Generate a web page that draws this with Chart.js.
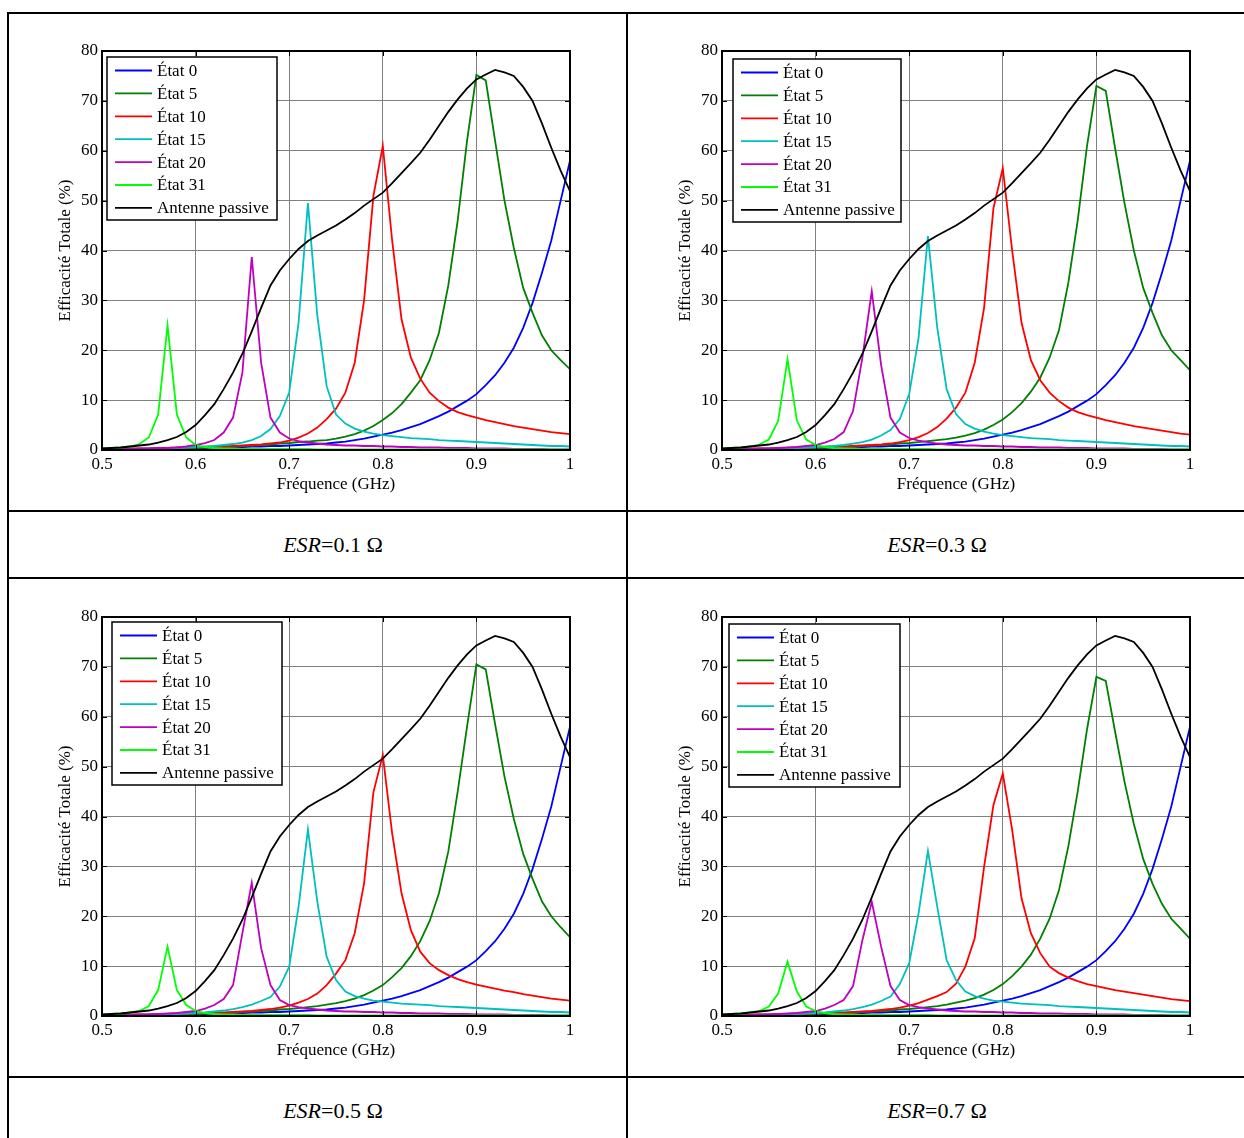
<!DOCTYPE html>
<html>
<head>
<meta charset="utf-8">
<script src="https://cdn.jsdelivr.net/npm/chart.js@4.4.0/dist/chart.umd.min.js"></script>
<style>
html, body { margin: 0; padding: 0; background: #fff; width: 1244px; height: 1138px; overflow: hidden; }
canvas { position: absolute; }
.hl { position: absolute; background: #000; height: 2px; z-index: 5; }
.vl { position: absolute; background: #000; width: 2px; z-index: 5; }
.cap { position: absolute; display: flex; align-items: center; justify-content: center;
       font-family: "Liberation Serif", "Times New Roman", serif; font-size: 22px; color: #000; }
</style>
</head>
<body>
<canvas id="c1" width="620" height="498" style="left:8px;top:13px"></canvas>
<canvas id="c2" width="620" height="498" style="left:628px;top:13px"></canvas>
<canvas id="c3" width="620" height="499" style="left:8px;top:578px"></canvas>
<canvas id="c4" width="620" height="499" style="left:628px;top:578px"></canvas>

<div class="cap" id="cap1" style="left:183px;top:512px;width:300px;height:66px"></div>
<div class="cap" id="cap2" style="left:787px;top:512px;width:300px;height:66px"></div>
<div class="cap" id="cap3" style="left:183px;top:1078px;width:300px;height:66px"></div>
<div class="cap" id="cap4" style="left:787px;top:1078px;width:300px;height:66px"></div>

<div class="hl" style="left:7px;top:12px;width:1240px"></div>
<div class="hl" style="left:7px;top:510px;width:1240px"></div>
<div class="hl" style="left:7px;top:577px;width:1240px"></div>
<div class="hl" style="left:7px;top:1076px;width:1240px"></div>
<div class="vl" style="left:7px;top:12px;height:1130px"></div>
<div class="vl" style="left:626px;top:12px;height:1130px"></div>

<script>
// fréquences (GHz), un point tous les 10 MHz
var freq = [0.50,0.51,0.52,0.53,0.54,0.55,0.56,0.57,0.58,0.59,
            0.60,0.61,0.62,0.63,0.64,0.65,0.66,0.67,0.68,0.69,
            0.70,0.71,0.72,0.73,0.74,0.75,0.76,0.77,0.78,0.79,
            0.80,0.81,0.82,0.83,0.84,0.85,0.86,0.87,0.88,0.89,
            0.90,0.91,0.92,0.93,0.94,0.95,0.96,0.97,0.98,0.99,1.00];

var xTickLabels = ['0.5', '0.6', '0.7', '0.8', '0.9', '1'];
var yTickLabels = ['0', '10', '20', '30', '40', '50', '60', '70', '80'];
var legendLabels = ['État 0', 'État 5', 'État 10', 'État 15', 'État 20', 'État 31', 'Antenne passive'];
var esrValues = ['0.1', '0.3', '0.5', '0.7'];

// antenne passive : identique sur les 4 figures
var passive = [0.3,0.4,0.5,0.7,0.9,1.1,1.5,2.0,2.6,3.6,
               5.0,7.0,9.2,12.2,15.5,19.3,23.8,28.5,33.0,36.0,
               38.3,40.3,41.9,43.0,44.0,45.0,46.2,47.5,49.0,50.3,
               51.6,53.5,55.5,57.5,59.6,62.2,65.0,67.8,70.3,72.5,
               74.3,75.3,76.2,75.7,75.0,72.8,70.0,65.5,60.6,56.0,51.9];

// état 0 : quasiment le même partout
var etat0 = [0.1,0.1,0.1,0.2,0.2,0.2,0.3,0.3,0.3,0.4,
             0.4,0.4,0.5,0.5,0.6,0.6,0.7,0.7,0.8,0.8,
             0.9,1.0,1.1,1.2,1.3,1.5,1.7,2.0,2.3,2.7,
             3.1,3.5,4.0,4.6,5.2,6.0,6.8,7.7,8.8,9.9,
             11.2,13.0,15.0,17.5,20.5,24.5,29.5,35.5,42.0,50.0,58.0];

// ESR = 0.1
var esr1_e5 = [0.1,0.1,0.1,0.2,0.2,0.2,0.3,0.3,0.3,0.4,
               0.4,0.5,0.5,0.6,0.7,0.8,0.9,1.0,1.1,1.3,
               1.4,1.6,1.7,1.9,2.0,2.3,2.7,3.2,3.9,4.8,
               6.0,7.4,9.2,11.5,14.0,18.0,23.5,33.0,46.0,62.0,
               75.2,74.1,62.0,50.0,40.5,32.5,27.5,23.0,20.0,18.0,16.2];
var esr1_e10 = [0.2,0.2,0.2,0.3,0.3,0.3,0.4,0.4,0.5,0.5,
                0.6,0.6,0.7,0.7,0.8,0.9,1.0,1.1,1.3,1.5,
                1.9,2.5,3.3,4.5,6.2,8.3,11.5,17.5,30.0,51.0,
                61.0,42.0,26.2,18.5,14.3,11.5,9.8,8.5,7.6,7.0,
                6.5,6.0,5.6,5.2,4.8,4.5,4.2,3.9,3.6,3.4,3.2];
var esr1_e15 = [0.1,0.1,0.2,0.2,0.2,0.3,0.3,0.4,0.4,0.5,
                0.6,0.7,0.8,1.0,1.2,1.5,2.0,2.8,4.2,6.8,
                11.5,25.5,49.5,27.0,12.8,7.1,5.3,4.3,3.7,3.3,
                3.0,2.8,2.6,2.4,2.3,2.2,2.0,1.9,1.8,1.7,
                1.6,1.5,1.4,1.3,1.2,1.1,1.0,0.9,0.8,0.8,0.7];
var esr1_e20 = [0.1,0.1,0.2,0.2,0.3,0.3,0.4,0.4,0.5,0.7,
                1.0,1.4,2.0,3.5,6.5,15.5,38.7,17.5,6.5,3.5,
                2.3,1.8,1.5,1.3,1.1,1.0,0.9,0.9,0.8,0.8,
                0.7,0.7,0.6,0.6,0.5,0.5,0.5,0.4,0.4,0.4,
                0.3,0.3,0.3,0.3,0.2,0.2,0.2,0.2,0.1,0.1,0.1];
var esr1_e31 = [0.3,0.4,0.5,0.7,1.2,2.5,7.1,25.0,7.1,2.5,
                1.0,0.6,0.4,0.3,0.3,0.2,0.2,0.2,0.2,0.2,
                0.2,0.2,0.2,0.1,0.1,0.1,0.1,0.1,0.1,0.1,
                0.1,0.1,0.1,0.1,0.1,0.1,0.1,0.1,0.1,0.1,
                0.1,0.1,0.1,0.1,0.1,0.1,0.1,0.1,0.1,0.1,0.1];

// ESR = 0.3
var esr3_e5 = [0.1,0.1,0.1,0.2,0.2,0.2,0.3,0.3,0.3,0.4,
               0.4,0.5,0.5,0.6,0.7,0.8,0.9,1.0,1.1,1.3,
               1.4,1.6,1.8,2.0,2.2,2.5,2.9,3.4,4.1,5.0,
               6.1,7.6,9.4,11.7,14.5,18.5,24.0,33.5,46.0,61.0,
               73.0,72.0,60.5,49.5,40.0,32.5,27.5,23.0,20.0,18.0,16.0];
var esr3_e10 = [0.2,0.2,0.2,0.3,0.3,0.3,0.4,0.4,0.5,0.5,
                0.6,0.6,0.7,0.7,0.8,0.9,1.0,1.1,1.3,1.6,
                2.0,2.6,3.4,4.6,6.3,8.5,11.5,17.5,28.5,48.5,
                56.5,40.0,25.5,18.0,14.0,11.5,9.8,8.5,7.6,7.0,
                6.5,6.0,5.6,5.2,4.8,4.5,4.2,3.9,3.6,3.3,3.1];
var esr3_e15 = [0.1,0.1,0.2,0.2,0.2,0.3,0.3,0.4,0.4,0.5,
                0.6,0.7,0.8,1.0,1.3,1.6,2.1,2.9,4.0,6.2,
                11.2,22.5,42.9,24.5,12.2,7.2,5.2,4.3,3.7,3.3,
                3.0,2.8,2.6,2.4,2.3,2.2,2.0,1.9,1.8,1.7,
                1.6,1.5,1.4,1.3,1.2,1.1,1.0,0.9,0.8,0.8,0.7];
var esr3_e20 = [0.1,0.1,0.2,0.2,0.3,0.3,0.4,0.5,0.6,0.8,
                1.0,1.5,2.2,3.6,7.8,18.5,31.8,17.0,6.5,3.5,
                2.4,1.9,1.6,1.3,1.1,1.0,0.9,0.9,0.8,0.8,
                0.7,0.7,0.6,0.6,0.5,0.5,0.5,0.4,0.4,0.4,
                0.3,0.3,0.3,0.3,0.2,0.2,0.2,0.2,0.1,0.1,0.1];
var esr3_e31 = [0.3,0.4,0.5,0.7,1.1,2.1,5.8,18.2,5.9,2.1,
                1.0,0.6,0.4,0.3,0.3,0.2,0.2,0.2,0.2,0.2,
                0.2,0.2,0.2,0.1,0.1,0.1,0.1,0.1,0.1,0.1,
                0.1,0.1,0.1,0.1,0.1,0.1,0.1,0.1,0.1,0.1,
                0.1,0.1,0.1,0.1,0.1,0.1,0.1,0.1,0.1,0.1,0.1];

// ESR = 0.5
var esr5_e5 = [0.1,0.1,0.1,0.2,0.2,0.2,0.3,0.3,0.3,0.4,
               0.4,0.5,0.5,0.6,0.7,0.8,0.9,1.0,1.1,1.3,
               1.4,1.6,1.8,2.0,2.3,2.6,3.0,3.5,4.2,5.1,
               6.2,7.8,9.6,12.0,15.0,19.0,24.6,33.0,45.0,58.0,
               70.5,69.5,58.5,48.0,39.5,32.5,27.5,23.0,20.0,17.8,15.8];
var esr5_e10 = [0.2,0.2,0.2,0.3,0.3,0.3,0.4,0.4,0.5,0.5,
                0.6,0.6,0.7,0.7,0.8,0.9,1.0,1.2,1.4,1.7,
                2.1,2.7,3.4,4.5,6.2,8.5,11.2,16.6,26.6,44.9,
                52.3,36.6,24.6,17.2,12.9,10.6,9.2,8.2,7.4,6.8,
                6.3,5.9,5.5,5.1,4.8,4.4,4.1,3.8,3.5,3.3,3.1];
var esr5_e15 = [0.1,0.1,0.2,0.2,0.2,0.3,0.3,0.4,0.4,0.5,
                0.6,0.7,0.9,1.1,1.4,1.8,2.3,3.0,3.8,5.9,
                9.9,21.9,37.4,23.0,11.9,7.2,4.9,4.0,3.5,3.1,
                2.9,2.7,2.5,2.4,2.3,2.2,2.0,1.9,1.8,1.7,
                1.6,1.5,1.4,1.3,1.2,1.1,1.0,0.9,0.8,0.8,0.7];
var esr5_e20 = [0.1,0.1,0.2,0.2,0.3,0.3,0.4,0.5,0.6,0.8,
                1.0,1.5,2.2,3.4,6.2,16.6,26.7,13.6,6.2,3.2,
                2.2,1.8,1.5,1.3,1.1,1.0,0.9,0.9,0.8,0.8,
                0.7,0.7,0.6,0.6,0.5,0.5,0.5,0.4,0.4,0.4,
                0.3,0.3,0.3,0.3,0.2,0.2,0.2,0.2,0.1,0.1,0.1];
var esr5_e31 = [0.3,0.4,0.5,0.7,1.0,2.0,5.2,13.9,5.2,2.2,
                1.0,0.6,0.4,0.3,0.3,0.2,0.2,0.2,0.2,0.2,
                0.2,0.2,0.2,0.1,0.1,0.1,0.1,0.1,0.1,0.1,
                0.1,0.1,0.1,0.1,0.1,0.1,0.1,0.1,0.1,0.1,
                0.1,0.1,0.1,0.1,0.1,0.1,0.1,0.1,0.1,0.1,0.1];

// ESR = 0.7
var esr7_e5 = [0.1,0.1,0.1,0.2,0.2,0.2,0.3,0.3,0.3,0.4,
               0.4,0.5,0.5,0.6,0.7,0.8,0.9,1.0,1.1,1.3,
               1.4,1.6,1.8,2.0,2.3,2.7,3.1,3.6,4.3,5.2,
               6.4,8.0,9.9,12.3,15.5,19.5,25.2,34.0,45.0,57.5,
               68.0,67.2,57.0,47.0,38.5,31.5,26.5,22.5,19.5,17.5,15.5];
var esr7_e10 = [0.2,0.2,0.2,0.3,0.3,0.3,0.4,0.4,0.5,0.5,
                0.6,0.6,0.7,0.7,0.8,0.9,1.0,1.2,1.4,1.7,
                2.1,2.6,3.3,4.0,4.8,6.5,9.9,15.6,29.9,42.3,
                48.6,37.3,23.6,16.6,12.6,9.9,8.6,7.7,7.0,6.4,
                6.0,5.6,5.2,4.9,4.6,4.3,4.0,3.7,3.4,3.2,3.0];
var esr7_e15 = [0.1,0.1,0.2,0.2,0.2,0.3,0.3,0.4,0.4,0.5,
                0.6,0.7,0.9,1.1,1.4,1.8,2.3,3.0,3.9,6.4,
                10.6,20.6,33.1,21.9,11.2,7.2,4.9,4.0,3.5,3.1,
                2.9,2.7,2.5,2.4,2.3,2.2,2.0,1.9,1.8,1.7,
                1.6,1.5,1.4,1.3,1.2,1.1,1.0,0.9,0.8,0.8,0.7];
var esr7_e20 = [0.1,0.1,0.2,0.2,0.3,0.3,0.4,0.5,0.6,0.8,
                1.0,1.5,2.2,3.2,6.0,15.2,22.9,13.9,6.0,3.2,
                2.2,1.8,1.5,1.3,1.1,1.0,0.9,0.9,0.8,0.8,
                0.7,0.7,0.6,0.6,0.5,0.5,0.5,0.4,0.4,0.4,
                0.3,0.3,0.3,0.3,0.2,0.2,0.2,0.2,0.1,0.1,0.1];
var esr7_e31 = [0.3,0.4,0.5,0.7,1.0,1.9,4.5,10.9,4.9,1.9,
                1.0,0.6,0.4,0.3,0.3,0.2,0.2,0.2,0.2,0.2,
                0.2,0.2,0.2,0.1,0.1,0.1,0.1,0.1,0.1,0.1,
                0.1,0.1,0.1,0.1,0.1,0.1,0.1,0.1,0.1,0.1,
                0.1,0.1,0.1,0.1,0.1,0.1,0.1,0.1,0.1,0.1,0.1];

// couleurs Matlab (ordre par défaut)
var colors = ['#0000ff', '#008000', '#ff0000', '#00bfbf', '#bf00bf', '#00ff00', '#000000'];

var FONT = '"Liberation Serif", "Times New Roman", serif';

function pts(vals) {
    return freq.map(function (f, i) { return { x: f, y: vals[i] }; });
}

// cadre, graduations internes et légende type Matlab
var matlabFrame = {
    id: 'matlabFrame',
    afterDatasetsDraw: function (chart, args, opts) {
        var ctx = chart.ctx, a = chart.chartArea;
        var xs = chart.scales.x, ys = chart.scales.y;
        ctx.save();
        ctx.strokeStyle = '#000';
        ctx.lineWidth = 1;
        ctx.beginPath();
        xs.ticks.forEach(function (t) {
            var px = Math.round(xs.getPixelForValue(t.value)) + 0.5;
            ctx.moveTo(px, a.bottom); ctx.lineTo(px, a.bottom - 5);
            ctx.moveTo(px, a.top); ctx.lineTo(px, a.top + 5);
        });
        ys.ticks.forEach(function (t) {
            var py = Math.round(ys.getPixelForValue(t.value)) + 0.5;
            ctx.moveTo(a.left, py); ctx.lineTo(a.left + 5, py);
            ctx.moveTo(a.right, py); ctx.lineTo(a.right - 5, py);
        });
        ctx.stroke();
        ctx.lineWidth = 2;
        ctx.strokeRect(a.left, a.top, a.right - a.left, a.bottom - a.top);

        // légende
        var bx = a.left + opts.dx, by = a.top + opts.dy, bw = opts.w, bh = 163;
        ctx.fillStyle = '#fff';
        ctx.fillRect(bx, by, bw, bh);
        ctx.lineWidth = 1.5;
        ctx.strokeRect(bx, by, bw, bh);
        ctx.font = '17px ' + FONT;
        ctx.textBaseline = 'middle';
        ctx.textAlign = 'left';
        chart.data.datasets.forEach(function (ds, i) {
            var y = by + 13.5 + i * 22.9;
            ctx.strokeStyle = ds.borderColor;
            ctx.lineWidth = 1.8;
            ctx.beginPath();
            ctx.moveTo(bx + 8, y); ctx.lineTo(bx + 45, y);
            ctx.stroke();
            ctx.fillStyle = '#000';
            ctx.fillText(ds.label, bx + 50, y + 1);
        });
        ctx.restore();
    }
};

function drawFigure(id, seriesList, padTop, leg) {
    var datasets = seriesList.map(function (vals, i) {
        return {
            label: legendLabels[i],
            data: pts(vals),
            borderColor: colors[i],
            backgroundColor: colors[i],
            borderWidth: 1.8,
            pointRadius: 0,
            tension: 0,
            fill: false,
            order: seriesList.length - i   // noir au-dessus, bleu en dessous
        };
    });
    new Chart(document.getElementById(id), {
        type: 'line',
        data: { datasets: datasets },
        options: {
            responsive: false,
            animation: false,
            layout: { padding: { top: padTop, left: 34, right: 58, bottom: 11 } },
            plugins: {
                legend: { display: false },
                tooltip: { enabled: false },
                matlabFrame: leg
            },
            scales: {
                x: {
                    type: 'linear', min: 0.5, max: 1,
                    afterFit: function (s) { s.height = 50; },
                    ticks: {
                        stepSize: 0.1, padding: 4, color: '#000', maxRotation: 0,
                        font: { family: FONT, size: 17 },
                        callback: function (v, i) { return xTickLabels[i]; }
                    },
                    grid: { color: '#808080', lineWidth: 1, drawTicks: false },
                    border: { display: false },
                    title: {
                        display: true, text: 'Fréquence (GHz)', color: '#000',
                        font: { family: FONT, size: 17 }, padding: { top: 0, bottom: 5 }
                    }
                },
                y: {
                    min: 0, max: 80,
                    afterFit: function (s) { s.width = 60; },
                    ticks: {
                        stepSize: 10, padding: 4, color: '#000',
                        font: { family: FONT, size: 17 },
                        callback: function (v, i) { return yTickLabels[i]; }
                    },
                    grid: { color: '#808080', lineWidth: 1, drawTicks: false },
                    border: { display: false },
                    title: {
                        display: true, text: 'Efficacité Totale (%)', color: '#000',
                        font: { family: FONT, size: 17 }, padding: { top: 13, bottom: 0 }
                    }
                }
            }
        },
        plugins: [matlabFrame]
    });
}

window.addEventListener('load', function () {
    // légendes du tableau
    esrValues.forEach(function (v, i) {
        var cap = document.getElementById('cap' + (i + 1));
        cap.innerHTML = '<span><i>ESR</i>=' + v + ' Ω</span>';
    });

    drawFigure('c1', [etat0, esr1_e5, esr1_e10, esr1_e15, esr1_e20, esr1_e31, passive], 38, { dx: 5, dy: 6, w: 170 });
    drawFigure('c2', [etat0, esr3_e5, esr3_e10, esr3_e15, esr3_e20, esr3_e31, passive], 38, { dx: 11, dy: 8, w: 168 });
    drawFigure('c3', [etat0, esr5_e5, esr5_e10, esr5_e15, esr5_e20, esr5_e31, passive], 39, { dx: 10, dy: 5, w: 170 });
    drawFigure('c4', [etat0, esr7_e5, esr7_e10, esr7_e15, esr7_e20, esr7_e31, passive], 39, { dx: 7, dy: 7, w: 171 });
});
</script>
</body>
</html>
